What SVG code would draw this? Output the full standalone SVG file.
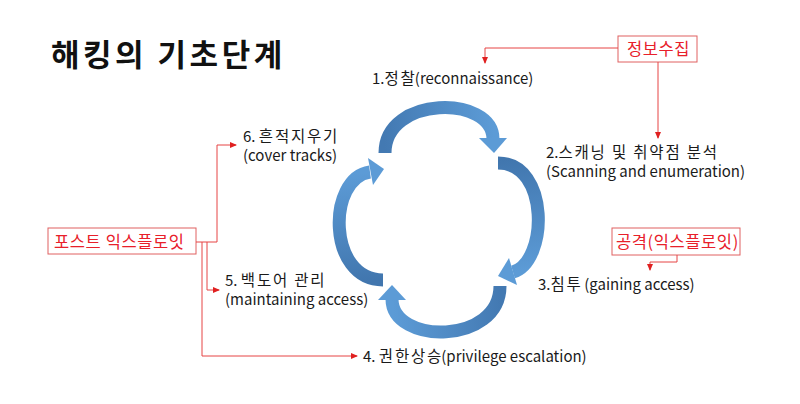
<svg xmlns="http://www.w3.org/2000/svg" width="800" height="404" viewBox="0 0 800 404">
<style>
.t{font-family:"Noto Sans CJK KR","Noto Sans",sans-serif;font-size:15px;fill:#1a1a1a}
.k{font-size:15.5px;letter-spacing:1.8px}
.title{font-family:"Noto Sans CJK KR","Noto Sans",sans-serif;font-size:31px;font-weight:bold;fill:#111;letter-spacing:3.5px}
.box{fill:#fff;stroke:#e06060;stroke-width:1}
.bt{font-family:"Noto Sans CJK KR","Noto Sans",sans-serif;font-size:16.5px;fill:#e8202a;letter-spacing:0.6px}
.c{fill:none;stroke:#e64545;stroke-width:1}
.band{fill:none;stroke-width:13;stroke-linecap:butt}
.head{fill:#5c9bd6}
</style>
<defs>
<marker id="ar" markerUnits="userSpaceOnUse" markerWidth="7" markerHeight="7" refX="6" refY="3.5" orient="auto">
<path d="M0,0.5 L7,3.5 L0,6.5 Z" fill="#e02020"/>
</marker>
<linearGradient id="gTop" gradientUnits="userSpaceOnUse" x1="385" y1="150" x2="495" y2="140">
<stop offset="0" stop-color="#4379b2"/><stop offset="1" stop-color="#5c9bd6"/>
</linearGradient>
<linearGradient id="gRight" gradientUnits="userSpaceOnUse" x1="500" y1="160" x2="512" y2="272">
<stop offset="0" stop-color="#4176ae"/><stop offset="1" stop-color="#5c9bd6"/>
</linearGradient>
<linearGradient id="gBot" gradientUnits="userSpaceOnUse" x1="500" y1="290" x2="392" y2="300">
<stop offset="0" stop-color="#4379b2"/><stop offset="1" stop-color="#5c9bd6"/>
</linearGradient>
<linearGradient id="gLeft" gradientUnits="userSpaceOnUse" x1="383" y1="280" x2="372" y2="172">
<stop offset="0" stop-color="#4176ae"/><stop offset="1" stop-color="#5c9bd6"/>
</linearGradient>
</defs>
<rect width="800" height="404" fill="#fff"/>
<text class="title" x="51" y="66">해킹의 기초단계</text>

<g id="cycle">
<g id="arrow-top">
<path class="band" stroke="url(#gTop)" d="M385,153 C385,95 493,95 493,139"/>
<polygon class="head" points="479,138 507,138 494,153"/>
</g>
<g id="arrow-right">
<path class="band" stroke="url(#gRight)" d="M498,163 C550,163 548,262 513,272"/>
<polygon class="head" points="509,258 517,285 498,276"/>
</g>
<g id="arrow-bottom">
<path class="band" stroke="url(#gBot)" d="M500,286 C500,345 392,345 392,299"/>
<polygon class="head" points="378,300 406,300 392,285"/>
</g>
<g id="arrow-left">
<path class="band" stroke="url(#gLeft)" d="M383,280 C327,280 327,178 370,172"/>
<polygon class="head" points="368,158 373,185 384,169"/>
</g>
</g>

<g id="step1"><text class="t" x="372" y="84">1.<tspan class="k">정찰</tspan><tspan dx="-1.8">(reconnaissance)</tspan></text></g>
<g id="step2"><text class="t" x="546" y="158">2.<tspan class="k">스캐닝 및 취약점 분석</tspan></text><text class="t" x="546" y="177">(Scanning and enumeration)</text></g>
<g id="step3"><text class="t" x="538" y="290">3.<tspan class="k">침투</tspan><tspan dx="-1.8"> (gaining access)</tspan></text></g>
<g id="step4"><text class="t" x="363" y="362">4. <tspan class="k">권한상승</tspan><tspan dx="-1.8">(privilege escalation)</tspan></text></g>
<g id="step5"><text class="t" x="225" y="286">5. <tspan class="k">백도어 관리</tspan></text><text class="t" x="225" y="305">(maintaining access)</text></g>
<g id="step6"><text class="t" x="243" y="142">6. <tspan class="k">흔적지우기</tspan></text><text class="t" x="243" y="161">(cover tracks)</text></g>

<g id="info-gathering"><rect class="box" x="618" y="36" width="79" height="26"/><text class="bt" x="627" y="55">정보수집</text></g>
<g id="attack"><rect class="box" x="612" y="228" width="128" height="27"/><text class="bt" x="616" y="248">공격(익스플로잇)</text></g>
<g id="post-exploit"><rect class="box" x="48" y="228" width="148" height="26"/><text class="bt" x="54" y="248">포스트 익스플로잇</text></g>

<g id="connectors">
<path class="c" d="M618,48 H485 V63" marker-end="url(#ar)"/>
<path class="c" d="M658,62 V138" marker-end="url(#ar)"/>
<path class="c" d="M677,255 V262 H650 V270" marker-end="url(#ar)"/>
<path class="c" d="M196,242 H217 V145 H236" marker-end="url(#ar)"/>
<path class="c" d="M207,242 V290 H219" marker-end="url(#ar)"/>
<path class="c" d="M202,242 V356 H357" marker-end="url(#ar)"/>
</g>
</svg>
